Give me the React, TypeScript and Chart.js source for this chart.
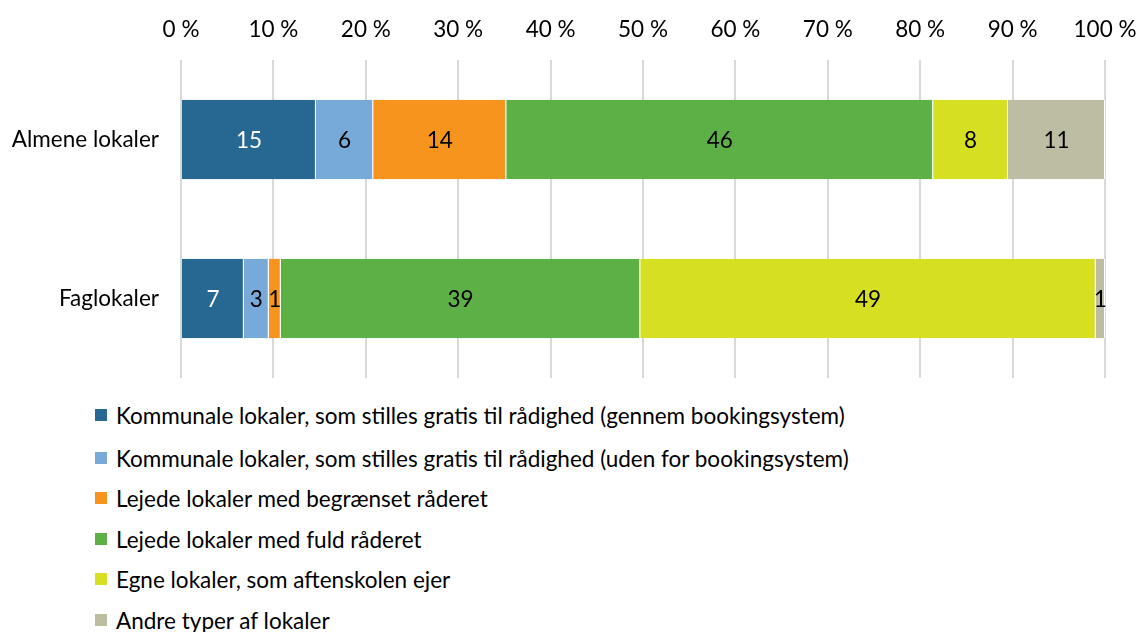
import React, { useEffect, useRef } from "react";
import { Chart, registerables } from "chart.js";

Chart.register(...registerables);

const categories = ["Almene lokaler", "Faglokaler"];
const seriesNames = [
  "Kommunale lokaler, som stilles gratis til rådighed (gennem bookingsystem)",
  "Kommunale lokaler, som stilles gratis til rådighed (uden for bookingsystem)",
  "Lejede lokaler med begrænset råderet",
  "Lejede lokaler med fuld råderet",
  "Egne lokaler, som aftenskolen ejer",
  "Andre typer af lokaler",
];
const kommunaleGennem = [14.6, 6.8];
const kommunaleUden = [6.2, 2.7];
const lejedeBegraenset = [14.4, 1.3];
const lejedeFuld = [46.2, 38.9];
const egne = [8.1, 49.3];
const andre = [10.5, 1.0];
const seriesValues = [kommunaleGennem, kommunaleUden, lejedeBegraenset, lejedeFuld, egne, andre];
const colors = ["#276892", "#77AAD8", "#F7941E", "#5DB045", "#D7DF23", "#BDBDA3"];
const labelColors = ["#ffffff", "#000000", "#000000", "#000000", "#000000", "#000000"];
const xTicks = [0, 10, 20, 30, 40, 50, 60, 70, 80, 90, 100];

const FONT = "Lato, 'Open Sans', sans-serif";
const FS = 22.5;

const barLabels = {
  id: "barLabels",
  afterDatasetsDraw(chart: any) {
    const ctx = chart.ctx;
    ctx.save();
    ctx.font = `${FS}px ${FONT}`;
    ctx.textAlign = "center";
    ctx.textBaseline = "middle";
    chart.data.datasets.forEach((ds: any, di: number) => {
      const meta = chart.getDatasetMeta(di);
      meta.data.forEach((el: any, i: number) => {
        const v = ds.data[i];
        const cx = (el.x + el.base) / 2;
        ctx.fillStyle = labelColors[di];
        ctx.fillText(String(Math.round(v)), cx, el.y + 1);
      });
    });
    ctx.restore();
  },
};

export default function App() {
  const ref = useRef<HTMLCanvasElement>(null);
  useEffect(() => {
    document.body.style.margin = "0";
    const chart = new Chart(ref.current!, {
      type: "bar",
      data: {
        labels: categories,
        datasets: seriesNames.map((name, i) => ({
          label: name,
          data: seriesValues[i],
          backgroundColor: colors[i],
          borderColor: "#ffffff",
          borderWidth: { left: 0, right: 1, top: 0, bottom: 0 },
          borderSkipped: false,
          categoryPercentage: 0.5,
          barPercentage: 1,
        })),
      },
      options: {
        indexAxis: "y",
        animation: false,
        responsive: false,
        maintainAspectRatio: false,
        layout: { padding: { left: 0, right: 0, top: 0, bottom: 0 } },
        plugins: { legend: { display: false }, tooltip: { enabled: false } },
        scales: {
          x: {
            position: "top",
            stacked: true,
            min: 0,
            max: 100,
            afterBuildTicks: (s: any) => {
              s.ticks = xTicks.map((v) => ({ value: v }));
            },
            afterFit: (s: any) => {
              s.height = 60;
              s.paddingRight = 32;
              s.paddingLeft = 0;
            },
            ticks: {
              callback: (v: any) => `${v} %`,
              color: "#000",
              font: { family: FONT, size: FS },
              padding: 17,
              maxRotation: 0,
            },
            grid: { color: "#d9d9d9", lineWidth: 2, drawTicks: false },
            border: { display: false },
          },
          y: {
            stacked: true,
            afterFit: (s: any) => {
              s.width = 181;
              s.paddingTop = 0;
              s.paddingBottom = 0;
            },
            ticks: {
              color: "#000",
              font: { family: FONT, size: FS },
              padding: 22,
            },
            grid: { display: false, drawTicks: false },
            border: { display: false },
          },
        },
      },
      plugins: [barLabels],
    });
    return () => chart.destroy();
  }, []);

  const legendTops = [415, 458, 498, 539, 579, 620];
  return (
    <div style={{ position: "relative", width: 1137, height: 632, fontFamily: FONT }}>
      <canvas ref={ref} width={1137} height={378} style={{ display: "block" }} />
      {seriesNames.map((name, i) => (
        <div
          key={name}
          style={{
            position: "absolute",
            left: 95,
            top: legendTops[i] - 14,
            height: 28,
            display: "flex",
            alignItems: "center",
            whiteSpace: "nowrap",
            fontSize: FS,
            color: "#000",
          }}
        >
          <span style={{ display: "inline-block", width: 12, height: 12, background: colors[i], marginRight: 9 }} />
          <span>{name}</span>
        </div>
      ))}
    </div>
  );
}
